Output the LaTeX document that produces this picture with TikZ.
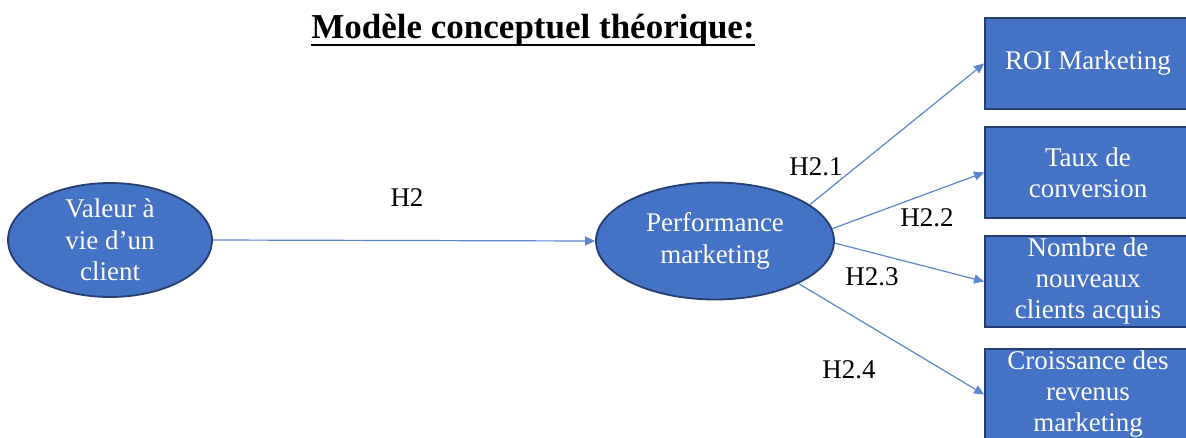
\documentclass[tikz,border=0pt]{standalone}
\usepackage{fontspec}
\setmainfont{Liberation Serif}
\usetikzlibrary{arrows.meta,shapes.geometric}
\definecolor{bluefill}{HTML}{4472C4}
\definecolor{blueline}{HTML}{263F73}
\definecolor{arrowblue}{HTML}{5B85D0}

\begin{document}
\begin{tikzpicture}[x=1pt,y=-1pt,
  oval/.style={ellipse, draw=blueline, fill=bluefill, line width=1.8pt, inner sep=-7pt,
    align=center, text=white, font=\fontsize{27}{31.5}\selectfont},
  box/.style={rectangle, draw=blueline, fill=bluefill, line width=1.8pt, inner sep=0pt,
    minimum width=206pt, minimum height=91pt, align=center, text=white,
    font=\fontsize{27}{31}\selectfont},
  link/.style={draw=arrowblue, line width=1.2pt, -{Triangle[length=10pt,width=9pt]}},
  hyp/.style={font=\fontsize{27}{31}\selectfont}]
  \useasboundingbox (0,0) rectangle (1186,437);
  \clip (0,0) rectangle (1186,437);

  %% title
  \node[anchor=base, inner sep=0pt, font=\fontsize{35}{40}\selectfont\bfseries] (title) at (533,38)
    {Modèle conceptuel théorique:};
  \draw[line width=2.8pt] ([yshift=-7pt]title.base west) -- ([yshift=-7pt]title.base east);

  %% ellipses
  \node[oval, minimum width=204pt, minimum height=114pt] (val) at (110,240)
    {Valeur à\\vie d’un\\client};
  \node[oval, minimum width=238pt, minimum height=117pt] (perf) at (715,241)
    {Performance\\marketing};

  %% boxes
  \node[box] (roi) at (1088,63.5) {ROI Marketing};
  \node[box] (taux) at (1088,172.5) {Taux de\\conversion};
  \node[box] (nouv) at (1088,281.5) {Nombre de\\nouveaux\\clients acquis};
  \node[box] (crois) at (1088,394.5) {Croissance des\\revenus\\marketing};

  %% arrows
  \draw[link] (val.east) -- (perf.west);
  \draw[link] (perf.21) -- (roi.west);
  \draw[link] (perf.6) -- (taux.west);
  \draw[link] (perf.-1) -- (nouv.west);
  \draw[link] (perf.-27) -- (crois.west);

  %% hypotheses
  \node[hyp] (h2) at (407,198) {H2};
  \node[hyp] (h21) at (816,167) {H2.1};
  \node[hyp] (h22) at (927,218) {H2.2};
  \node[hyp] (h23) at (872,277) {H2.3};
  \node[hyp] (h24) at (849,370) {H2.4};

\end{tikzpicture}
\end{document}
